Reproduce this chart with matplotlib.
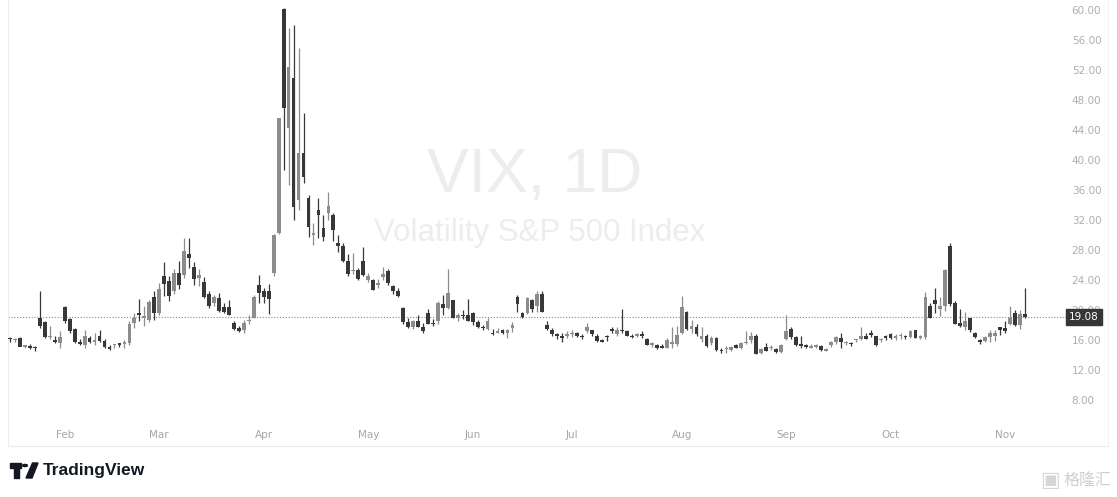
import numpy as np
import pandas as pd
import matplotlib
matplotlib.use('Agg')
import matplotlib.pyplot as plt
from matplotlib.lines import Line2D

# trading days, Jan 16 2025 .. Nov 7 2025 (US holidays removed)
holidays = ['2025-01-20', '2025-02-17', '2025-04-18', '2025-05-26',
            '2025-06-19', '2025-07-04', '2025-09-01']
dates = pd.bdate_range('2025-01-16', '2025-11-07')
dates = dates[~dates.isin(pd.to_datetime(holidays))]

opens = [16.2, 16.0, 16.3, 15.1, 15.2, 15.0, 18.9, 18.4, 16.4, 15.9, 15.6,
         # Feb
         20.4, 18.8, 17.5, 15.6, 15.3, 16.3, 15.8, 16.6, 15.9, 15.1, 15.3, 15.6, 15.5,
         15.6, 18.3, 19.6, 19.0, 18.7, 21.7,
         # Mar
         19.6, 24.5, 23.9, 22.5, 25.0, 24.7, 27.5, 25.8, 24.3, 23.8, 22.2, 21.0, 21.6,
         20.4, 20.4, 18.3, 17.6, 17.3, 18.5, 19.0, 23.4,
         # Apr
         22.5, 22.6, 25.0, 30.3, 60.1, 44.3, 51.0, 34.7, 40.9, 35.0, 30.0, 33.3, 30.9,
         32.9, 32.7, 29.0, 28.6, 26.6, 25.2, 25.3, 26.5,
         # May
         24.0, 24.0, 23.3, 24.4, 25.2, 23.2, 22.6, 20.3, 18.4, 17.8, 18.5, 17.8, 19.6,
         18.3, 18.5, 20.8, 20.3, 21.3, 19.0, 19.4, 19.4,
         # Jun
         19.6, 18.4, 17.7, 17.5, 17.0, 17.0, 17.3, 16.9, 17.6, 21.8, 19.6, 19.6, 21.4,
         20.6, 22.1, 18.0, 17.4, 16.8, 16.6, 16.6,
         # Jul
         16.8, 17.0, 16.5, 17.2, 17.3, 16.6, 16.0, 16.5, 17.5, 16.8, 17.4, 17.2, 16.6,
         16.6, 16.8, 16.2, 15.4, 15.4, 15.2, 15.0, 15.5, 15.5,
         # Aug
         16.9, 19.8, 17.5, 17.8, 16.2, 16.6, 15.6, 16.3, 14.6, 14.8, 14.7, 15.3, 15.0,
         15.6, 16.0, 16.6, 14.3, 15.1, 14.9, 14.8, 14.4,
         # Sep
         16.2, 17.5, 16.4, 15.5, 15.4, 15.0, 15.1, 15.2, 14.6, 15.3, 15.8, 16.3, 15.6,
         15.5, 16.0, 16.2, 16.6, 17.0, 16.5, 16.0, 16.5,
         # Oct
         16.8, 16.3, 16.5, 16.5, 16.4, 17.3, 16.3, 16.4, 20.6, 21.4, 20.1, 20.5, 28.5,
         21.0, 18.3, 17.7, 18.9, 17.0, 16.0, 15.9, 16.4, 16.6, 17.7,
         # Nov
         17.6, 18.1, 19.6, 18.0, 19.5]

highs = [16.4, 16.3, 16.4, 15.4, 15.5, 15.2, 22.5, 18.5, 17.9, 16.5, 17.2,
         20.5, 19.0, 17.6, 16.1, 17.4, 16.5, 16.9, 17.4, 16.1, 15.3, 15.5, 15.6, 16.0,
         18.6, 19.6, 21.5, 20.5, 21.4, 22.5,
         23.6, 26.4, 24.6, 25.5, 26.6, 29.6, 29.6, 26.4, 25.5, 24.4, 22.6, 22.0, 22.3,
         21.0, 21.4, 18.6, 17.9, 18.7, 19.4, 22.0, 24.7,
         23.0, 23.5, 30.2, 45.6, 60.3, 57.6, 58.0, 54.9, 46.3, 35.3, 31.6, 35.0, 32.7,
         35.8, 33.0, 30.0, 28.9, 27.5, 27.6, 25.6, 28.4,
         24.9, 24.2, 24.2, 25.7, 25.5, 23.3, 23.0, 20.4, 18.9, 18.7, 19.3, 18.3, 20.2,
         18.8, 21.2, 22.0, 25.5, 21.4, 19.6, 20.0, 21.5,
         19.7, 18.7, 18.0, 18.9, 17.5, 17.6, 17.5, 17.5, 18.4, 22.0, 19.7, 21.7, 21.5,
         22.5, 22.6, 18.5, 17.6, 17.0, 16.9, 17.2,
         17.4, 17.1, 16.8, 18.3, 17.4, 16.8, 16.2, 16.7, 17.8, 17.7, 20.1, 17.3, 16.8,
         17.0, 17.2, 16.3, 15.8, 15.5, 15.5, 16.3, 17.7, 17.9,
         21.9, 19.9, 18.7, 18.1, 17.8, 16.8, 16.6, 16.4, 14.9, 15.2, 15.2, 15.5, 15.8,
         17.2, 17.1, 16.8, 15.0, 15.6, 15.3, 14.9, 15.5,
         19.4, 17.7, 16.5, 16.6, 15.5, 15.5, 15.5, 15.3, 14.9, 15.9, 16.6, 17.0, 15.9,
         15.8, 16.2, 17.7, 16.9, 17.3, 16.6, 16.3, 16.7,
         16.9, 16.8, 16.9, 16.7, 17.4, 17.4, 16.7, 22.4, 21.0, 22.9, 21.7, 25.5, 29.0,
         21.2, 20.2, 19.8, 19.0, 17.1, 16.2, 16.6, 17.4, 17.4, 17.8,
         18.5, 20.6, 20.0, 20.0, 22.9]

lows = [15.8, 15.8, 15.2, 14.9, 14.8, 14.6, 17.6, 16.3, 16.1, 15.6, 14.9,
        18.3, 17.0, 15.6, 15.3, 15.0, 15.6, 15.4, 15.7, 15.0, 14.7, 14.9, 15.1, 15.0,
        15.4, 17.6, 18.5, 17.9, 18.4, 18.7,
        19.4, 21.9, 21.2, 22.2, 22.8, 24.3, 25.6, 23.4, 23.2, 21.6, 20.3, 20.6, 19.8,
        19.6, 19.3, 17.4, 17.1, 16.9, 18.2, 18.9, 21.0,
        21.0, 19.5, 24.5, 30.2, 38.7, 36.7, 32.0, 33.4, 37.0, 29.7, 28.7, 29.6, 29.2,
        32.0, 29.2, 27.7, 26.4, 24.6, 24.8, 24.0, 24.6,
        23.8, 22.7, 23.0, 24.0, 23.3, 22.1, 21.7, 18.2, 17.6, 17.5, 17.7, 17.0, 18.1,
        17.9, 18.2, 19.4, 20.1, 18.9, 18.5, 18.8, 18.5,
        18.0, 17.6, 17.3, 17.3, 16.7, 16.9, 16.8, 16.3, 17.1, 19.7, 18.9, 19.5, 19.7,
        19.8, 19.7, 17.3, 16.6, 16.2, 15.8, 16.3,
        16.4, 16.4, 16.1, 17.0, 16.6, 15.7, 15.7, 15.9, 16.9, 16.6, 17.0, 16.5, 16.3,
        16.4, 16.3, 15.3, 15.1, 14.8, 14.9, 14.9, 15.0, 15.2,
        16.8, 17.4, 17.0, 16.5, 15.8, 15.1, 15.3, 14.6, 14.3, 14.3, 14.6, 14.9, 14.8,
        15.5, 15.6, 14.1, 14.2, 14.5, 14.7, 14.3, 14.3,
        16.0, 16.1, 15.2, 15.0, 15.0, 14.9, 14.9, 14.6, 14.5, 15.1, 15.5, 15.0, 15.3,
        15.2, 15.7, 16.0, 16.1, 16.4, 15.2, 15.8, 16.0,
        16.1, 16.0, 16.2, 16.1, 16.3, 16.3, 16.2, 16.2, 18.9, 19.6, 19.2, 19.9, 20.6,
        18.1, 17.7, 17.3, 17.1, 16.3, 15.5, 15.8, 15.8, 15.9, 16.7,
        17.0, 18.0, 17.9, 17.5, 19.0]

closes = [16.1, 16.2, 15.1, 15.1, 15.0, 14.9, 17.9, 16.4, 16.6, 15.8, 16.4,
          18.6, 17.2, 15.8, 15.5, 16.5, 15.8, 16.0, 15.9, 15.1, 14.8, 15.4, 15.3, 15.7,
          18.2, 19.0, 19.4, 19.1, 21.1, 19.6,
          22.8, 23.5, 21.9, 24.9, 23.4, 27.9, 26.9, 24.2, 24.7, 21.8, 20.5, 21.7, 19.9,
          19.8, 19.3, 17.5, 17.2, 18.3, 18.7, 21.7, 22.3,
          21.8, 21.5, 30.0, 45.6, 47.0, 52.4, 33.7, 40.9, 37.7, 31.1, 30.3, 32.7, 29.7,
          33.9, 30.7, 28.5, 26.5, 24.8, 25.2, 24.2, 24.7,
          24.6, 22.7, 23.6, 24.8, 23.6, 22.5, 21.9, 18.4, 17.7, 18.6, 17.8, 17.2, 18.1,
          18.1, 20.9, 20.3, 22.3, 19.0, 19.3, 19.2, 18.6,
          18.4, 17.7, 17.6, 18.5, 16.8, 17.2, 17.0, 17.3, 18.0, 20.8, 19.1, 21.6, 20.1,
          22.2, 19.8, 17.5, 16.8, 16.6, 16.3, 16.7,
          16.8, 16.6, 16.4, 17.8, 16.8, 15.9, 15.8, 16.4, 17.2, 17.4, 17.2, 16.5, 16.4,
          16.7, 16.5, 15.4, 15.4, 14.9, 15.0, 16.0, 15.5, 16.7,
          20.4, 17.5, 17.9, 16.8, 16.6, 15.2, 16.3, 14.7, 14.5, 14.8, 15.1, 15.0, 15.6,
          15.7, 16.6, 14.2, 14.8, 14.6, 14.9, 14.4, 15.4,
          17.2, 16.4, 15.3, 15.2, 15.1, 15.0, 15.35, 14.7, 14.8, 15.7, 16.4, 15.7, 15.7,
          15.45, 16.1, 16.6, 16.2, 16.7, 15.3, 16.1, 16.3,
          16.3, 16.6, 16.65, 16.4, 17.2, 16.3, 16.4, 21.7, 19.0, 20.8, 20.6, 25.3, 20.8,
          18.2, 17.9, 18.6, 17.3, 16.4, 15.8, 16.4, 16.9, 16.9, 17.4,
          17.2, 19.0, 18.0, 19.5, 19.08]

last_close = closes[-1]

W, H = 1117, 497
fig = plt.figure(figsize=(W / 100, H / 100), dpi=100)
fig.patch.set_facecolor('white')

# pane: x 8..1062 px, y 0..446 px
ax = fig.add_axes([8 / W, (H - 446) / H, (1062 - 8) / W, 446 / H])
ax.set_facecolor('white')
step = 4.975
ax.set_xlim(-2 / step, (1062 - 10) / step)
ax.set_ylim(60 - 436 / 7.5, 60 + 10 / 7.5)

x = np.arange(len(closes))
o = np.array(opens); c = np.array(closes)
hi = np.array(highs); lo = np.array(lows)
up = c >= o
col = np.where(up, '#8c8c8c', '#383838')

ax.vlines(x, lo, hi, colors=col, linewidth=0.9, zorder=3)
body = np.abs(c - o)
body = np.maximum(body, 0.18)
ax.bar(x, body, bottom=np.minimum(o, c), width=0.76, color=col, zorder=4,
       linewidth=0)

# watermark
ax.text(0.4995, (446 - 176) / 446, 'VIX, 1D', transform=ax.transAxes,
        ha='center', va='center', fontsize=45, color='#ededed',
        family='Liberation Sans', zorder=1)
ax.text(0.5045, (446 - 233) / 446, 'Volatility S&P 500 Index', transform=ax.transAxes,
        ha='center', va='center', fontsize=22.5, color='#ededed',
        family='Liberation Sans', zorder=1)

# last price line
ax.axhline(last_close, color='#8a8a8a', linestyle=(0, (1, 1.6)), linewidth=0.8,
           zorder=2)

# y axis on the right
yt = np.arange(8, 61, 4)
ax.set_yticks(yt)
ax.set_yticklabels(['%.2f' % v for v in yt])
ax.yaxis.tick_right()
ax.tick_params(axis='y', length=0, pad=7, labelsize=7.5, labelcolor='#aeaeae')
ax.set_xticks([])

# month labels
month_first = pd.Series(np.arange(len(dates)), index=dates).groupby(dates.to_period('M')).min()
for per, i in month_first.items():
    if per.month == 1:
        continue
    ax.text(i, 11 / 446, per.strftime('%b'), transform=ax.get_xaxis_transform(),
            ha='center', va='center', fontsize=7.5, color='#a6a6a6')

for s in ['top', 'right']:
    ax.spines[s].set_visible(False)
ax.spines['left'].set_color('#ececec')
ax.spines['bottom'].set_visible(False)
fig.add_artist(Line2D([8 / W, 1108 / W], [(H - 446) / H] * 2, color='#ececec', lw=0.8))
fig.add_artist(Line2D([1108 / W] * 2, [(H - 446) / H, 1], color='#f2f2f2', lw=0.8))

# dotted line into scale + price tag
yp = 1 - (10 + (60 - last_close) * 7.5) / H
fig.add_artist(Line2D([1062 / W, 1066 / W], [yp, yp], color='#8a8a8a',
                      linestyle=(0, (1, 1.6)), lw=0.8))
fig.text(1084 / W, yp, '%.2f' % last_close, ha='center', va='center', fontsize=7.5,
         color='white', zorder=10,
         bbox=dict(boxstyle='square,pad=0.3', fc='#363636', ec='#363636'))

# TradingView logo
fig.add_artist(plt.Rectangle((10 / W, 1 - 468 / H), 11 / W, 5 / H, color='#131722',
                             transform=fig.transFigure))
fig.add_artist(plt.Rectangle((14 / W, 1 - 478 / H), 4.5 / W, 10 / H, color='#131722',
                             transform=fig.transFigure))
fig.add_artist(plt.Circle((25 / W, 1 - 465.5 / H), 2.4 / W, color='#131722',
                          transform=fig.transFigure))
fig.add_artist(plt.Polygon([[26 / W, 1 - 478 / H], [32 / W, 1 - 478 / H],
                            [38 / W, 1 - 463 / H], [32.5 / W, 1 - 463 / H]],
                           closed=True, color='#131722', transform=fig.transFigure))
fig.text(43 / W, 1 - 471 / H, 'TradingView', ha='left', va='center', fontsize=12.5,
         fontweight='bold', color='#131722', family='Liberation Sans')

# bottom-right watermark
fig.text(1050 / W, 1 - 480 / H, '\u25A3', ha='center', va='center', fontsize=15,
         color='#d6d6d6', family='DejaVu Sans')
fig.text(1087 / W, 1 - 480 / H, '格隆汇', ha='center', va='center', fontsize=11.5,
         color='#cfcfcf', family=['Noto Sans CJK SC', 'DejaVu Sans'])

fig.savefig('out.png', dpi=100, facecolor='white')
